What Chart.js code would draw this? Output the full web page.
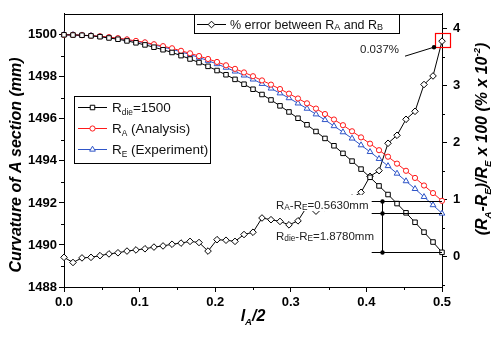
<!DOCTYPE html>
<html><head><meta charset="utf-8">
<script src="https://cdn.jsdelivr.net/npm/chart.js@4.4.0/dist/chart.umd.min.js"></script>
<style>html,body{margin:0;padding:0;background:#fff}canvas{display:block}</style>
</head><body>
<canvas id="c" width="497" height="341"></canvas>
<script>
// ---- data ----
const xPos = [0,0.0119,0.0238,0.0357,0.0476,0.0595,0.0714,0.0833,0.0952,0.1071,0.1190,0.1310,0.1429,0.1548,0.1667,0.1786,0.1905,0.2024,0.2143,0.2262,0.2381,0.2500,0.2619,0.2738,0.2857,0.2976,0.3095,0.3214,0.3333,0.3452,0.3571,0.3690,0.3810,0.3929,0.4048,0.4167,0.4286,0.4405,0.4524,0.4643,0.4762,0.4881,0.5];
const rDie = [1500.00,1499.99,1499.98,1499.95,1499.91,1499.85,1499.79,1499.71,1499.62,1499.52,1499.41,1499.29,1499.16,1499.01,1498.85,1498.68,1498.50,1498.30,1498.10,1497.88,1497.65,1497.41,1497.16,1496.90,1496.62,1496.33,1496.03,1495.72,1495.40,1495.07,1494.72,1494.36,1493.99,1493.61,1493.22,1492.81,1492.40,1491.97,1491.53,1491.08,1490.61,1490.14,1489.65];
const rA = [1500.00,1500.00,1499.98,1499.96,1499.93,1499.89,1499.84,1499.78,1499.71,1499.64,1499.55,1499.46,1499.36,1499.24,1499.12,1498.99,1498.85,1498.71,1498.55,1498.38,1498.21,1498.03,1497.83,1497.63,1497.42,1497.20,1496.97,1496.74,1496.49,1496.23,1495.97,1495.70,1495.41,1495.12,1494.82,1494.51,1494.20,1493.87,1493.53,1493.19,1492.83,1492.47,1492.10];
const rE = [1500.00,1500.00,1499.98,1499.96,1499.92,1499.88,1499.83,1499.76,1499.69,1499.61,1499.52,1499.42,1499.31,1499.19,1499.06,1498.92,1498.77,1498.61,1498.44,1498.26,1498.07,1497.88,1497.67,1497.45,1497.22,1496.99,1496.74,1496.49,1496.22,1495.95,1495.66,1495.37,1495.07,1494.75,1494.43,1494.10,1493.76,1493.40,1493.04,1492.67,1492.29,1491.90,1491.50];
const errAB = [-0.01,-0.10,-0.02,-0.01,0.02,0.05,0.07,0.10,0.12,0.14,0.17,0.19,0.22,0.24,0.27,0.25,0.10,0.30,0.29,0.27,0.39,0.43,0.68,0.65,0.62,0.56,0.63,0.88,0.80,0.86,0.92,0.97,1.03,1.13,1.41,1.51,1.99,2.13,2.41,2.55,3.02,3.17,3.78];
const xTicks = [0,0.1,0.2,0.3,0.4,0.5];
const yLeftTicks = [1488,1490,1492,1494,1496,1498,1500];
const yRightTicks = [0,1,2,3,4];
const xMinor = [0.05,0.15,0.25,0.35,0.45];
const yLeftMinor = [1489,1491,1493,1495,1497,1499];
const yRightMinor = [-0.5,0.5,1.5,2.5,3.5];

const FF = '"Liberation Sans", Arial, Helvetica, sans-serif';
const RED = '#ff1a1a', BLUE = '#2f55c8';
function fnt(size, bold, italic){ return (italic?'italic ':'') + (bold?'bold ':'') + size + 'px ' + FF; }

// rich text: parts = [[text, kind]] kind: n normal, b sub, p sup
function drawRich(ctx, parts, x, y, size, o){
  o = o || {};
  const subS = size * (o.subScale || 0.65);
  const drop = size * (o.subDrop == null ? 0.22 : o.subDrop);
  const rise = size * 0.42;
  const setF = k => { ctx.font = fnt(k==='n'?size:subS, o.bold, o.italic); };
  let w = 0;
  parts.forEach(p => { setF(p[1]); w += ctx.measureText(p[0]).width; });
  if (o.align === 'center') x -= w/2;
  ctx.textAlign = 'left'; ctx.textBaseline = 'alphabetic';
  ctx.fillStyle = o.color || '#000';
  parts.forEach(p => {
    setF(p[1]);
    const dy = p[1]==='b' ? drop : (p[1]==='p' ? -rise : 0);
    ctx.fillText(p[0], x, y + dy);
    x += ctx.measureText(p[0]).width;
  });
  return w;
}

function marker(ctx, style, r, color, x, y){
  ctx.save();
  ctx.strokeStyle = color; ctx.fillStyle = '#fff'; ctx.lineWidth = 1;
  Chart.helpers.drawPoint(ctx, {pointStyle: style, radius: r, rotation: 0, borderWidth: 1}, x, y);
  ctx.restore();
}

const deco = {
  id: 'deco',
  afterDraw(chart){
    const ctx = chart.ctx, ca = chart.chartArea;
    const xs = chart.scales.x, ys = chart.scales.y, y2 = chart.scales.y2;
    ctx.save();
    ctx.strokeStyle = '#000'; ctx.lineWidth = 1;
    // top frame line
    ctx.beginPath(); ctx.moveTo(ca.left, Math.round(ca.top)+0.5); ctx.lineTo(ca.right+0.5, Math.round(ca.top)+0.5); ctx.stroke();
    // minor ticks
    ctx.beginPath();
    xMinor.forEach(v => { const p = Math.round(xs.getPixelForValue(v))+0.5; ctx.moveTo(p, ca.bottom); ctx.lineTo(p, ca.bottom+3); });
    yLeftMinor.forEach(v => { const p = Math.round(ys.getPixelForValue(v))+0.5; ctx.moveTo(ca.left-3, p); ctx.lineTo(ca.left, p); });
    yRightMinor.forEach(v => { const p = Math.round(y2.getPixelForValue(v))+0.5; ctx.moveTo(ca.right, p); ctx.lineTo(ca.right+3, p); });
    ctx.stroke();

    // lower-right dimension lines
    const xL = xs.getPixelForValue(0.407), xR = xs.getPixelForValue(0.5), xV = Math.round(xs.getPixelForValue(0.42))+0.5;
    const ends = [rA[rA.length-1], rE[rE.length-1], rDie[rDie.length-1]].map(v => Math.round(ys.getPixelForValue(v))+0.5);
    ctx.beginPath();
    ends.forEach(p => { ctx.moveTo(xL, p); ctx.lineTo(xR, p); });
    ctx.moveTo(xV, ends[0]); ctx.lineTo(xV, ends[2]);
    ctx.stroke();
    ctx.fillStyle = '#000';
    ends.forEach(p => { ctx.beginPath(); ctx.arc(xV, p, 2.2, 0, Math.PI*2); ctx.fill(); });

    // text annotations
    ctx.fillStyle = '#fff'; ctx.fillRect(274, 195, 96, 16);
    ctx.fillStyle = '#000';
    drawRich(ctx, [['R','n'],['A','b'],['-R','n'],['E','b'],['=0.5630mm','n']], 276, 208.5, 11.5, {subScale:0.72, subDrop:0.1, color:'#222'});
    drawRich(ctx, [['R','n'],['die','b'],['-R','n'],['E','b'],['=1.8780mm','n']], 276, 239.5, 11.5, {subScale:0.72, subDrop:0.12, color:'#222'});

    // last error point callout
    const lx = xs.getPixelForValue(xPos[xPos.length-1]), ly = y2.getPixelForValue(errAB[errAB.length-1]);
    ctx.strokeStyle = '#ff0000'; ctx.lineWidth = 1.2;
    ctx.strokeRect(Math.round(lx)-6.5, Math.round(ly)-7.5, 15, 14);
    ctx.strokeStyle = '#000'; ctx.lineWidth = 1;
    ctx.beginPath(); ctx.moveTo(lx-37, ly+15); ctx.lineTo(lx-8, ly+6); ctx.stroke();
    ctx.beginPath(); ctx.arc(lx-8, ly+6, 2.2, 0, Math.PI*2); ctx.fillStyle='#000'; ctx.fill();
    ctx.font = fnt(11.5); ctx.fillStyle = '#222'; ctx.textAlign='left'; ctx.textBaseline='alphabetic';
    ctx.fillText('0.037%', 360, 53);

    // legend 1
    ctx.fillStyle = '#fff'; ctx.fillRect(74, 96, 136, 68);
    ctx.strokeStyle = '#000'; ctx.lineWidth = 1; ctx.strokeRect(74.5, 96.5, 136, 67);
    const L1 = [
      {y:107, c:'#000', s:'rect', r:3.2, parts:[['R','n'],['die','b'],['=1500','n']]},
      {y:128, c:RED, s:'circle', r:2.6, parts:[['R','n'],['A','b'],[' (Analysis)','n']]},
      {y:149, c:BLUE, s:'triangle', r:3.3, parts:[['R','n'],['E','b'],[' (Experiment)','n']]}
    ];
    L1.forEach(e => {
      ctx.strokeStyle = e.c; ctx.lineWidth = 1;
      ctx.beginPath(); ctx.moveTo(78, e.y+0.5); ctx.lineTo(107, e.y+0.5); ctx.stroke();
      marker(ctx, e.s, e.r, e.c, 92.5, e.y+0.5);
      drawRich(ctx, e.parts, 112, e.y+5, 13.5, {subScale:0.62, subDrop:0.25, color:'#111'});
    });
    // legend 2
    ctx.fillStyle = '#fff'; ctx.fillRect(194, 14, 205, 20);
    ctx.strokeStyle = '#000'; ctx.strokeRect(194.5, 14.5, 205, 19);
    ctx.beginPath(); ctx.moveTo(197, 24.5); ctx.lineTo(226, 24.5); ctx.stroke();
    marker(ctx, 'rectRot', 3.3, '#000', 211.5, 24.5);
    drawRich(ctx, [['% error between R','n'],['A','b'],[' and R','n'],['B','b']], 230, 29, 12.5, {subScale:0.72, subDrop:0.08, color:'#111'});

    // axis titles
    ctx.save(); ctx.translate(20.5, 165); ctx.rotate(-Math.PI/2);
    drawRich(ctx, [['Curvature of A section (mm)','n']], 0, 0, 16, {bold:true, italic:true, align:'center'});
    ctx.restore();
    ctx.save(); ctx.translate(487, 139); ctx.rotate(-Math.PI/2);
    drawRich(ctx, [['(R','n'],['A','b'],['-R','n'],['E','b'],[')/R','n'],['E','b'],[' x 100 (% x 10','n'],['-2','p'],[')','n']], 0, 0, 16, {bold:true, italic:true, align:'center', subScale:0.6, subDrop:0.25});
    ctx.restore();
    drawRich(ctx, [['l','n'],['A','b'],['/2','n']], 253, 320.5, 16, {bold:true, italic:true, align:'center', subScale:0.6, subDrop:0.25});
    ctx.restore();
  }
};

const pts = arr => xPos.map((x,i) => ({x: x, y: arr[i]}));
const tickFont = {family: FF, size: 13, weight: 'bold'};
const gridOpt = {drawOnChartArea:false, drawTicks:true, tickLength:5, color:'#000', lineWidth:1};
const borderOpt = {display:true, color:'#000', width:1};

new Chart(document.getElementById('c'), {
  type: 'line',
  data: { datasets: [
    {label:'R_die=1500', data: pts(rDie), borderColor:'#000', backgroundColor:'#fff', borderWidth:1, pointStyle:'rect', pointRadius:3.2, pointBorderWidth:1, pointBackgroundColor:'#fff', pointBorderColor:'#000', yAxisID:'y', tension:0, clip:false},
    {label:'R_A (Analysis)', data: pts(rA), borderColor:RED, backgroundColor:'#fff', borderWidth:1, pointStyle:'circle', pointRadius:2.6, pointBorderWidth:1, pointBackgroundColor:'#fff', pointBorderColor:RED, yAxisID:'y', tension:0, clip:false},
    {label:'R_E (Experiment)', data: pts(rE), borderColor:BLUE, backgroundColor:'#fff', borderWidth:1, pointStyle:'triangle', pointRadius:3.3, pointBorderWidth:1, pointBackgroundColor:'#fff', pointBorderColor:BLUE, yAxisID:'y', tension:0, clip:false},
    {label:'% error between RA and RB', data: pts(errAB), borderColor:'#000', backgroundColor:'#fff', borderWidth:1, pointStyle:'rectRot', pointRadius:3.3, pointBorderWidth:1, pointBackgroundColor:'#fff', pointBorderColor:'#000', yAxisID:'y2', tension:0, clip:false}
  ]},
  options: {
    responsive:false, animation:false, devicePixelRatio:1,
    layout:{padding:{top:8, left:0, right:0, bottom:0}},
    plugins:{legend:{display:false}, tooltip:{enabled:false}},
    scales:{
      x:{type:'linear', position:'bottom', min:0, max:0.5,
        afterBuildTicks: s => { s.ticks = xTicks.map(v => ({value:v})); },
        afterFit: s => { s.height = 54; },
        ticks:{callback: v => Number(v).toFixed(1), font:tickFont, color:'#000', padding:3, maxRotation:0, autoSkip:false},
        grid:gridOpt, border:borderOpt},
      y:{type:'linear', position:'left', min:1488, max:1501,
        afterBuildTicks: s => { s.ticks = yLeftTicks.map(v => ({value:v})); },
        afterFit: s => { s.width = 64; },
        ticks:{callback: v => String(v), font:tickFont, color:'#000', padding:2, autoSkip:false},
        grid:gridOpt, border:borderOpt},
      y2:{type:'linear', position:'right', min:-0.53, max:4.26,
        afterBuildTicks: s => { s.ticks = yRightTicks.map(v => ({value:v})); },
        afterFit: s => { s.width = 55; },
        ticks:{callback: v => String(v), font:tickFont, color:'#000', padding:6, autoSkip:false},
        grid:gridOpt, border:borderOpt}
    }
  },
  plugins:[deco]
});
</script>
</body></html>
